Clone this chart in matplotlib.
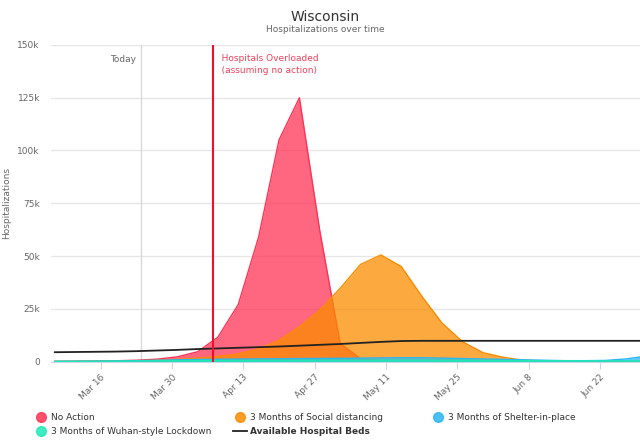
import matplotlib
matplotlib.use("Agg")
import matplotlib.pyplot as plt
import matplotlib.dates as mdates
from matplotlib.lines import Line2D
import pandas as pd

# every 4 days, from the chart
dates = pd.to_datetime([
    "2020-03-07", "2020-03-11", "2020-03-15", "2020-03-19", "2020-03-23",
    "2020-03-27", "2020-03-31", "2020-04-04", "2020-04-08", "2020-04-12",
    "2020-04-16", "2020-04-20", "2020-04-24", "2020-04-28", "2020-05-02",
    "2020-05-06", "2020-05-10", "2020-05-14", "2020-05-18", "2020-05-22",
    "2020-05-26", "2020-05-30", "2020-06-03", "2020-06-07", "2020-06-11",
    "2020-06-15", "2020-06-19", "2020-06-23", "2020-06-27", "2020-07-01",
])

no_action = [50, 100, 200, 350, 600, 1100, 2200, 4600, 11500, 27000,
             59000, 105000, 125000, 62000, 8600, 1300, 400, 200, 100, 50,
             0, 0, 0, 0, 0, 0, 0, 0, 0, 0]
social_distancing = [0, 50, 100, 200, 350, 600, 1000, 1600, 2400, 3600,
                     6000, 10000, 16500, 24400, 34700, 46000, 50500, 45000, 31000, 18200,
                     9400, 4200, 2000, 600, 300, 200, 150, 100, 100, 100]
shelter = [50, 100, 150, 250, 400, 600, 800, 950, 1050, 1150,
           1250, 1300, 1400, 1450, 1500, 1600, 1700, 1800, 1800, 1600,
           1400, 1200, 1000, 800, 600, 400, 400, 500, 1200, 2500]
wuhan = [50, 80, 120, 180, 250, 320, 400, 450, 500, 520,
         550, 560, 580, 600, 600, 600, 600, 600, 600, 580,
         550, 500, 450, 400, 380, 350, 330, 320, 300, 300]
hospital_beds = [4400, 4500, 4600, 4700, 4900, 5200, 5500, 5900, 6200, 6500,
                 6800, 7100, 7500, 7900, 8300, 8800, 9300, 9700, 9800, 9800,
                 9800, 9800, 9800, 9800, 9800, 9800, 9800, 9800, 9800, 9800]

today = pd.Timestamp("2020-03-24")
overloaded = pd.Timestamp("2020-04-07")
tick_dates = pd.to_datetime(["2020-03-16", "2020-03-30", "2020-04-13", "2020-04-27",
                             "2020-05-11", "2020-05-25", "2020-06-08", "2020-06-22"])

red = "#ff3355"
orange = "#fb8c00"
blue = "#29b6f6"
green = "#1de9b6"
grey_text = "#666666"

fig = plt.figure(figsize=(6.4, 4.4), dpi=100)
ax = fig.add_axes([51 / 640, 1 - 361.5 / 440, 1 - 51 / 640, 316.5 / 440])

series = [
    (no_action, red),
    (social_distancing, orange),
    (shelter, blue),
    (wuhan, green),
]
for i, (vals, col) in enumerate(series):
    ax.fill_between(dates, vals, 0, color=col, alpha=0.75, lw=0, zorder=2 + i)
    ax.plot(dates, vals, color=col, lw=1, zorder=2 + i)

ax.plot(dates, hospital_beds, color="#222222", lw=1.3, zorder=8)

ax.axvline(today, color="#d9d9d9", lw=1, zorder=1)
ax.axvline(overloaded, color="#f0102d", lw=1.5, zorder=9)
ax.text(today, 0.953, "Today  ", transform=ax.get_xaxis_transform(),
        ha="right", va="center", fontsize=6.5, color=grey_text)
ax.text(overloaded, 0.97, "   Hospitals Overloaded\n   (assuming no action)",
        transform=ax.get_xaxis_transform(), ha="left", va="top",
        fontsize=6.5, color="#f0415a", linespacing=1.3)

x0 = mdates.date2num(pd.Timestamp("2020-03-16")) - 9.75
x1 = mdates.date2num(pd.Timestamp("2020-06-22")) + 7.85
ax.set_xlim(x0, x1)
ax.set_ylim(0, 150000)

ax.set_yticks(range(0, 150001, 25000))
ax.set_yticklabels(["0"] + [f"{v // 1000}k" for v in range(25000, 150001, 25000)])
ax.set_xticks(tick_dates)
ax.set_xticklabels([f"{d:%b} {d.day}" for d in tick_dates], rotation=45,
                   ha="right", rotation_mode="anchor")

ax.grid(axis="y", color="#e6e6e6", lw=1, zorder=0)
ax.set_axisbelow(True)
for s in ["top", "right", "left"]:
    ax.spines[s].set_visible(False)
ax.spines["bottom"].set_color("#ccd6eb")
ax.tick_params(axis="y", length=0, pad=8, labelsize=6.5, labelcolor=grey_text)
ax.tick_params(axis="x", length=5, color="#ccd6eb", pad=3, labelsize=6.5,
               labelcolor=grey_text)
ax.set_ylabel("Hospitalizations", fontsize=6.5, color=grey_text)
ax.yaxis.set_label_coords(-0.068, 0.5)

fig.text(325 / 640, 1 - 17 / 440, "Wisconsin", ha="center", va="center",
         fontsize=10, color="#333333")
fig.text(325 / 640, 1 - 29 / 440, "Hospitalizations over time", ha="center",
         va="center", fontsize=6.5, color=grey_text)


def dot(col):
    return Line2D([], [], marker="o", ls="none", markersize=7,
                  markerfacecolor=col, markeredgecolor=col, alpha=0.85)


# legend laid out as a fixed grid of three columns
legend_cols = [
    ([dot(red), dot(green)], ["No Action", "3 Months of Wuhan-style Lockdown"], 34),
    ([dot(orange), Line2D([], [], color="#222222", lw=1.3)],
     ["3 Months of Social distancing", "Available Hospital Beds"], 233),
    ([dot(blue)], ["3 Months of Shelter-in-place"], 431),
]
for handles, labels, xpix in legend_cols:
    leg = fig.legend(handles, labels, loc="upper left",
                     bbox_to_anchor=(xpix / 640, 1 - 413 / 440), frameon=False,
                     fontsize=6.5, handlelength=1.6, handletextpad=0.3,
                     labelspacing=0.6, borderaxespad=0, borderpad=0)
    for t in leg.get_texts():
        t.set_color("#333333")
        if t.get_text() == "Available Hospital Beds":
            t.set_fontweight("bold")

fig.savefig("out.png", dpi=100)
